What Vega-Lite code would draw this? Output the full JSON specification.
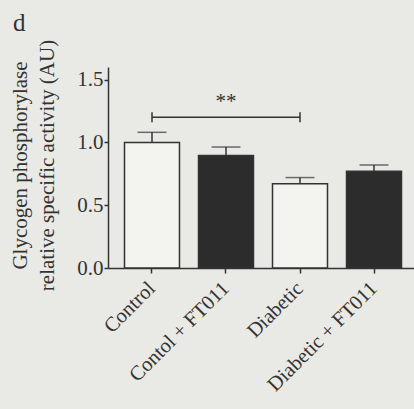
{
  "$schema": "https://vega.github.io/schema/vega-lite/v6.json",
  "width": 310,
  "height": 201,
  "autosize": {"type": "none"},
  "padding": {"left": 108, "top": 67, "right": 0, "bottom": 141},
  "background": "#e9e9e5",
  "config": {"view": {"stroke": null}, "font": "Liberation Serif"},
  "title": {"text": "d", "anchor": "start", "frame": "group", "fontSize": 25, "fontWeight": "normal", "font": "Liberation Serif", "color": "#333333", "dx": -95, "offset": 0, "baseline": "alphabetic", "dy": 17},
  "data": {"values": [
    {"group": "Control", "treatment": "Vehicle", "mean": 1.0, "upper": 1.08},
    {"group": "Contol + FT011", "treatment": "FT011", "mean": 0.895, "upper": 0.963},
    {"group": "Diabetic", "treatment": "Vehicle", "mean": 0.67, "upper": 0.72},
    {"group": "Diabetic + FT011", "treatment": "FT011", "mean": 0.77, "upper": 0.82}
  ]},
  "layer": [
    {
      "mark": {"type": "bar", "stroke": "#333333", "strokeWidth": 1.5},
      "encoding": {
        "x": {"field": "group", "type": "nominal", "sort": null,
          "scale": {"domain": ["Control", "Contol + FT011", "Diabetic", "Diabetic + FT011"], "paddingInner": 0.257, "paddingOuter": 0.223},
          "axis": {"title": null, "labelAngle": -45, "labelAlign": "right", "labelBaseline": "middle", "labelFontSize": 20.5, "labelFont": "Liberation Serif", "labelColor": "#333333", "tickSize": 5, "tickColor": "#333333", "domainColor": "#333333", "domainWidth": 1.5, "tickWidth": 1.5, "labelPadding": 12}},
        "y": {"field": "mean", "type": "quantitative",
          "scale": {"domain": [0, 1.5]},
          "axis": {"values": [0, 0.5, 1, 1.5], "format": ".1f", "grid": false, "labelFontSize": 21, "labelFont": "Liberation Serif", "labelColor": "#333333", "tickSize": 4, "labelPadding": 1, "tickColor": "#333333", "domainColor": "#333333", "domainWidth": 1.5, "tickWidth": 1.5,
            "title": ["Glycogen phosphorylase", "relative specific activity (AU)"], "titleFont": "Liberation Serif", "titleFontSize": 21, "titleFontWeight": "normal", "titleColor": "#333333", "titleAngle": -90, "titleBaseline": "top", "titleAlign": "center", "titleX": -99, "titleY": 98, "titleLineHeight": 27}},
        "fill": {"field": "treatment", "type": "nominal", "scale": {"domain": ["Vehicle", "FT011"], "range": ["#f3f3ef", "#2c2c2c"]}, "legend": null}
      }
    },
    {
      "mark": {"type": "rule", "color": "#333333", "strokeWidth": 1.5},
      "encoding": {
        "x": {"field": "group", "type": "nominal", "sort": null},
        "y": {"field": "mean", "type": "quantitative"},
        "y2": {"field": "upper"}
      }
    },
    {
      "mark": {"type": "tick", "color": "#333333", "thickness": 1.5, "size": 29},
      "encoding": {
        "x": {"field": "group", "type": "nominal", "sort": null},
        "y": {"field": "upper", "type": "quantitative"}
      }
    },
    {
      "data": {"values": [{"from": "Control", "to": "Diabetic", "level": 1.2}]},
      "mark": {"type": "rule", "color": "#333333", "strokeWidth": 1.5},
      "encoding": {
        "x": {"field": "from", "type": "nominal", "sort": null},
        "x2": {"field": "to"},
        "y": {"field": "level", "type": "quantitative"}
      }
    },
    {
      "data": {"values": [{"g": "Control", "lo": 1.16, "hi": 1.24}, {"g": "Diabetic", "lo": 1.16, "hi": 1.24}]},
      "mark": {"type": "rule", "color": "#333333", "strokeWidth": 1.5},
      "encoding": {
        "x": {"field": "g", "type": "nominal", "sort": null},
        "y": {"field": "lo", "type": "quantitative"},
        "y2": {"field": "hi"}
      }
    },
    {
      "data": {"values": [{"g": "Contol + FT011", "level": 1.27, "label": "**"}]},
      "mark": {"type": "text", "fontSize": 21, "font": "Liberation Serif", "color": "#333333", "baseline": "alphabetic"},
      "encoding": {
        "x": {"field": "g", "type": "nominal", "sort": null},
        "y": {"field": "level", "type": "quantitative"},
        "text": {"field": "label"}
      }
    }
  ]
}
